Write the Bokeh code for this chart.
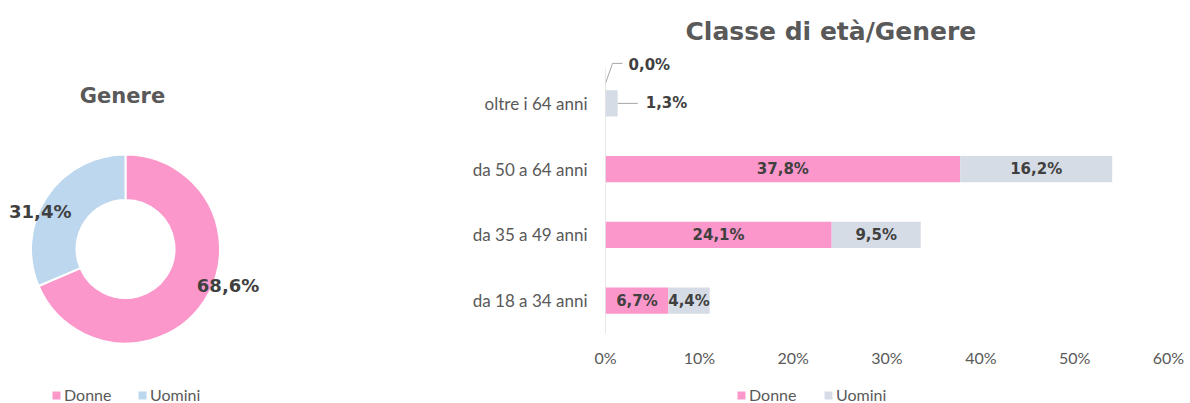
from bokeh.plotting import figure
from bokeh.layouts import row, column
from bokeh.models import (Range1d, Legend, LegendItem, Label, FixedTicker, Title,
                          PrintfTickFormatter, ColumnDataSource)
from bokeh.core.properties import value
from bokeh.embed import file_html
from bokeh.resources import INLINE
import math

# ---------------- data ----------------
gender_labels = ["Donne", "Uomini"]
gender_share = [68.6, 31.4]

age_classes = ["da 18 a 34 anni", "da 35 a 49 anni", "da 50 a 64 anni", "oltre i 64 anni"]
women = [6.7, 24.1, 37.8, 0.0]
men = [4.4, 9.5, 16.2, 1.3]
x_ticks = [0, 10, 20, 30, 40, 50, 60]

# ---------------- style ----------------
PINK = "#FB97CB"
BLUE = "#BDD7EE"
GREY = "#D6DCE5"
TXT = "#404040"
TITLE = "#595959"
AXIS_TXT = "#595959"
LBL_FONT = value("DejaVu Sans")
AX_FONT = "Lato"


def fmt(v):
    return f"{v:.1f}".replace(".", ",") + "%"


def legend(items, loc, lw):
    return Legend(items=items, location=loc, orientation="horizontal",
                  border_line_color=None, background_fill_alpha=0, padding=0,
                  margin=0, spacing=0, glyph_width=10, glyph_height=10,
                  label_standoff=3, label_width=lw, label_height=14,
                  label_text_font=AX_FONT, label_text_font_size="16px",
                  label_text_color=AXIS_TXT)


def blank(p):
    p.frame_align = False
    p.axis.visible = False
    p.grid.visible = False
    p.outline_line_color = None


def carriers(p, colors):
    # one-point renderers placed outside the visible area, used only as legend swatches
    return [p.hbar(y=[-1000], left=[0], right=[1], height=1, fill_color=c, line_color=None)
            for c in colors]


# ================= left: donut =================
W1, H = 400, 403
p1 = figure(width=W1, height=H, x_range=Range1d(0, W1), y_range=Range1d(0, H),
            output_backend="svg", toolbar_location=None, min_border=0)
blank(p1)

cx, cy = 125, 154.5
r_in, r_out = 49, 94.5
cum = 0.0
starts, ends = [], []
for s in gender_share:
    ends.append(math.radians(90 - 3.6 * cum))
    cum += s
    starts.append(math.radians(90 - 3.6 * cum))

donut_colors = [PINK, BLUE]
donut_src = ColumnDataSource(dict(label=gender_labels, share=gender_share,
                                  start=starts, end=ends, color=donut_colors))
donut = p1.annular_wedge(x=cx, y=cy, inner_radius=r_in, outer_radius=r_out,
                         inner_radius_units="screen", outer_radius_units="screen",
                         start_angle="start", end_angle="end",
                         fill_color="color", line_color="white", line_width=2,
                         source=donut_src)

label_angle = [-19.8, 156.5]
label_radius = [109, 93]
lx = [cx + r * math.cos(math.radians(a)) for a, r in zip(label_angle, label_radius)]
ly = [cy + r * math.sin(math.radians(a)) for a, r in zip(label_angle, label_radius)]
p1.text(x=lx, y=ly, text=[fmt(v) for v in gender_share], text_align="center",
        text_baseline="middle", text_font=LBL_FONT, text_font_style="bold",
        text_font_size="18px", text_color=TXT)

p1.add_layout(Label(x=122, y=H - 95, text="Genere", text_align="center",
                    text_baseline="middle", text_font="DejaVu Sans",
                    text_font_style="bold", text_font_size="21px",
                    text_color=TITLE))

c1 = carriers(p1, donut_colors)
p1.add_layout(legend([LegendItem(label=lab, renderers=[r], index=0)
                      for lab, r in zip(gender_labels, c1)], (51, -1), 73))

# ================= right: stacked bars =================
W2 = 790
H2 = 370
ML, MR, MT, MB = 205, 22, 50, 37
PX_Y = 65.75                      # pixels per category band
frame_h = H2 - MT - MB
y0 = -0.5
p2 = figure(width=W2, height=H2, x_range=Range1d(x_ticks[0], x_ticks[-1]),
            y_range=Range1d(y0, y0 + frame_h / PX_Y),
            output_backend="svg", toolbar_location=None,
            min_border_left=ML, min_border_right=MR,
            min_border_top=MT, min_border_bottom=MB)
p2.frame_align = False
p2.grid.visible = False
p2.outline_line_color = None

ys = list(range(len(age_classes)))
totals = [w + m for w, m in zip(women, men)]
bar_h = 0.4
r_w = p2.hbar(y=ys, left=0, right=women, height=bar_h, fill_color=PINK, line_color=None)
r_m = p2.hbar(y=ys, left=women, right=totals, height=bar_h, fill_color=GREY, line_color=None)

# vertical category axis line (spans the category bands only)
p2.segment(x0=[x_ticks[0]], y0=[y0], x1=[x_ticks[0]], y1=[len(age_classes) - 0.5 + 2 / PX_Y],
           line_color="#D0D0D0", line_width=1)

px_x = (W2 - ML - MR) / (x_ticks[-1] - x_ticks[0])

in_x, in_y, in_t = [], [], []
for i in ys:
    for left, v in ((0, women[i]), (women[i], men[i])):
        if v >= 3:
            in_x.append(left + v / 2)
            in_y.append(i)
            in_t.append(fmt(v))
p2.text(x=in_x, y=in_y, text=in_t, text_align="center", text_baseline="middle",
        text_font=LBL_FONT, text_font_style="bold", text_font_size="15px",
        text_color=TXT)

# callouts for small segments
LEAD = "#A6A6A6"
for i in ys:
    if women[i] < 3:
        x0 = women[i]
        p2.line(x=[x0, x0 + 7 / px_x, x0 + 17 / px_x],
                y=[i + 20 / PX_Y, i + 40 / PX_Y, i + 40 / PX_Y],
                line_color=LEAD, line_width=1)
        p2.text(x=[x0 + 23 / px_x], y=[i + 38 / PX_Y], text=[fmt(women[i])],
                text_align="left", text_baseline="middle", text_font=LBL_FONT,
                text_font_style="bold", text_font_size="15px", text_color=TXT)
    if men[i] < 3:
        x0 = totals[i]
        p2.line(x=[x0, x0 + 20 / px_x], y=[i, i], line_color=LEAD, line_width=1)
        p2.text(x=[x0 + 28 / px_x], y=[i], text=[fmt(men[i])],
                text_align="left", text_baseline="middle", text_font=LBL_FONT,
                text_font_style="bold", text_font_size="15px", text_color=TXT)

# axes
xa = p2.xaxis[0]
xa.ticker = FixedTicker(ticks=x_ticks)
xa.formatter = PrintfTickFormatter(format="%d%%")
xa.axis_line_color = None
xa.major_tick_line_color = None
xa.minor_tick_line_color = None
xa.major_tick_in = 0
xa.major_tick_out = 0
xa.major_label_standoff = 14
xa.major_label_text_font = AX_FONT
xa.major_label_text_font_size = "16px"
xa.major_label_text_color = AXIS_TXT

ya = p2.yaxis[0]
ya.ticker = FixedTicker(ticks=ys)
ya.major_label_overrides = {i: c for i, c in zip(ys, age_classes)}
ya.axis_line_color = None
ya.major_tick_line_color = None
ya.minor_tick_line_color = None
ya.major_tick_in = 0
ya.major_tick_out = 0
ya.major_label_standoff = 18
ya.major_label_text_font = AX_FONT
ya.major_label_text_font_size = "17px"
ya.major_label_text_color = AXIS_TXT

p2.title = Title(text="Classe di età/Genere", align="left", offset=80,
                 text_font="DejaVu Sans", text_font_style="bold",
                 text_font_size="25px", text_color=TITLE, standoff=9)

# legend strip under the bar chart
H3 = H - H2
p3 = figure(width=W2, height=H3, x_range=Range1d(0, W2), y_range=Range1d(0, H3),
            output_backend="svg", toolbar_location=None, min_border=0)
blank(p3)
c3 = carriers(p3, [PINK, GREY])
p3.add_layout(legend([LegendItem(label=lab, renderers=[r], index=0)
                      for lab, r in zip(gender_labels, c3)], (336, -1), 74))

layout = row(p1, column(p2, p3, spacing=0), spacing=0)
open("out.html", "w").write(file_html(layout, INLINE))
